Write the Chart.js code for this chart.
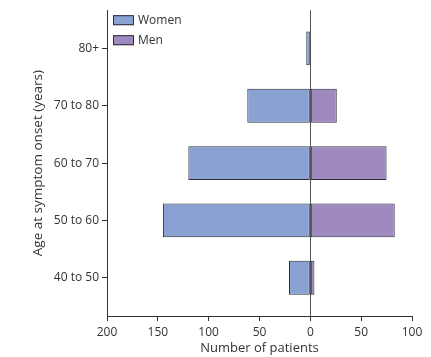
<!DOCTYPE html>
<html>
<head>
<meta charset="utf-8">
<script src="https://cdn.jsdelivr.net/npm/chart.js@4.4.1/dist/chart.umd.min.js"></script>
<style>
html,body{margin:0;padding:0;background:#fff;}
#wrap{width:431px;height:357px;position:relative;}
</style>
</head>
<body>
<div id="wrap"><canvas id="c" width="431" height="357"></canvas></div>
<script>
const categories = ['40 to 50', '50 to 60', '60 to 70', '70 to 80', '80+'];
const women = [21, 145, 120, 62, 4];
const men = [4, 83, 75, 26, 0];
const xTicks = [-200, -150, -100, -50, 0, 50, 100];
const seriesNames = ['Women', 'Men'];
const seriesColors = ['#8aa1d3', '#9f8abf'];

const FONT = "'Open Sans', 'Noto Sans', sans-serif";
const TXT = '#333333';

const legendPlugin = {
  id: 'insideLegend',
  afterDraw(chart) {
    const ctx = chart.ctx;
    const area = chart.chartArea;
    ctx.save();
    chart.data.datasets.forEach((ds, i) => {
      const bx = area.left + 6, by = area.top + 5 + i * 20, bw = 21, bh = 10;
      ctx.fillStyle = ds.backgroundColor;
      ctx.fillRect(bx, by, bw, bh);
      ctx.strokeStyle = '#2b2b3a';
      ctx.lineWidth = 1;
      ctx.strokeRect(bx + 0.5, by + 0.5, bw - 1, bh - 1);
      ctx.fillStyle = TXT;
      ctx.font = '12px ' + FONT;
      ctx.textBaseline = 'middle';
      ctx.textAlign = 'left';
      ctx.fillText(ds.label, bx + bw + 4, by + bh / 2);
    });
    ctx.restore();
  }
};

const zeroLine = {
  id: 'zeroLine',
  afterDatasetsDraw(chart) {
    const ctx = chart.ctx;
    const x = Math.round(chart.scales.x.getPixelForValue(0)) + 0.5;
    ctx.save();
    ctx.strokeStyle = '#555555';
    ctx.lineWidth = 1;
    ctx.beginPath();
    ctx.moveTo(x, chart.chartArea.top);
    ctx.lineTo(x, chart.chartArea.bottom);
    ctx.stroke();
    ctx.restore();
  }
};

new Chart(document.getElementById('c'), {
  type: 'bar',
  data: {
    datasets: [
      {
        label: seriesNames[0],
        data: women.map((v, i) => ({ x: -v, y: i })),
        backgroundColor: seriesColors[0],
        borderColor: '#2b2b3a',
        borderWidth: 1,
        borderSkipped: false,
        stack: 's'
      },
      {
        label: seriesNames[1],
        data: men.map((v, i) => ({ x: v, y: i })),
        backgroundColor: seriesColors[1],
        borderColor: '#2b2b3a',
        borderWidth: 1,
        borderSkipped: false,
        stack: 's'
      }
    ]
  },
  options: {
    indexAxis: 'y',
    responsive: false,
    animation: false,
    barPercentage: 0.59,
    categoryPercentage: 1,
    layout: { padding: { left: 0, right: 19, top: 10, bottom: 0 } },
    plugins: { legend: { display: false }, tooltip: { enabled: false } },
    scales: {
      x: {
        type: 'linear',
        stacked: true,
        offset: false,
        min: xTicks[0],
        max: xTicks[xTicks.length - 1],
        afterBuildTicks(scale) { scale.ticks = xTicks.map(v => ({ value: v })); },
        afterFit(scale) { scale.height = 41; },
        border: { display: true, color: '#333333', width: 1 },
        grid: { display: true, offset: false, drawOnChartArea: false, drawTicks: true, tickLength: 5, tickColor: '#333333' },
        ticks: {
          color: TXT, padding: 4, maxRotation: 0,
          font: { family: FONT, size: 12 },
          callback: v => String(Math.abs(v))
        },
        title: {
          display: true, text: 'Number of patients', color: TXT,
          font: { family: FONT, size: 13 }, padding: { top: 0, bottom: 1 }
        }
      },
      y: {
        type: 'linear',
        stacked: true,
        offset: false,
        min: -0.667,
        max: categories.length - 1 + 0.667,
        afterBuildTicks(scale) { scale.ticks = categories.map((c, i) => ({ value: i })); },
        afterFit(scale) { scale.width = 107; },
        border: { display: true, color: '#333333', width: 1 },
        grid: { display: true, offset: false, drawOnChartArea: false, drawTicks: true, tickLength: 5, tickColor: '#333333' },
        ticks: {
          color: TXT, padding: 3,
          font: { family: FONT, size: 12 },
          callback: v => categories[v]
        },
        title: {
          display: true, text: 'Age at symptom onset (years)', color: TXT,
          font: { family: FONT, size: 13.5 }, padding: { top: 30, bottom: 0 }
        }
      }
    }
  },
  plugins: [zeroLine, legendPlugin]
});
</script>
</body>
</html>
